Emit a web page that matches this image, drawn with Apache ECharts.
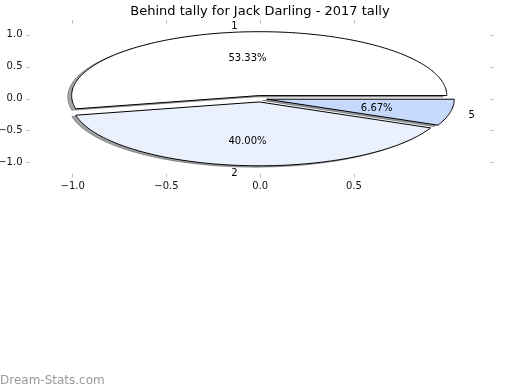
<!DOCTYPE html>
<html><head><meta charset="utf-8">
<script src="https://cdn.jsdelivr.net/npm/echarts@6/dist/echarts.min.js"></script>
<style>html,body{margin:0;padding:0;background:#fff}#c{width:520px;height:390px}</style>
</head><body><div id="c"></div>
<script>
const titleText = 'Behind tally for Jack Darling - 2017 tally';
const categories = ['1', '2', '5'];
const values = [8, 6, 1];
const sliceColors = ['#ffffff', '#eaf1fd', '#c6d9fb'];
const explode = [0.05, 0.05, 0.035];
const xTicks = [-1.0, -0.5, 0.0, 0.5];
const yTicks = [-1.0, -0.5, 0.0, 0.5, 1.0];
const watermark = 'Dream-Stats.com';

const FONT = 'DejaVu Sans';
const TEXT_DY = 1.2;
const total = values.reduce((a, b) => a + b, 0);
let acc = 0;
const sliceData = values.map((v, i) => {
  const a0 = acc / total * 360; acc += v; const a1 = acc / total * 360;
  return [a0, a1, i];
});

function wedgePts(api, a0, a1, cx, cy) {
  const pts = [api.coord([cx, cy])];
  const n = Math.max(4, Math.ceil(a1 - a0));
  for (let k = 0; k <= n; k++) {
    const t = (a0 + (a1 - a0) * k / n) * Math.PI / 180;
    pts.push(api.coord([cx + Math.cos(t), cy + Math.sin(t)]));
  }
  return pts;
}
function center(i, a0, a1) {
  const mid = (a0 + a1) / 2 * Math.PI / 180;
  return [explode[i] * Math.cos(mid), explode[i] * Math.sin(mid), mid];
}
const SH = -0.021;
function renderShadow(params, api) {
  const a0 = api.value(0), a1 = api.value(1), i = api.value(2);
  const [cx, cy] = center(i, a0, a1);
  const rgb = echarts.color.parse(sliceColors[i]);
  const c = 'rgba(' + Math.round(rgb[0]*0.3) + ',' + Math.round(rgb[1]*0.3) + ',' + Math.round(rgb[2]*0.3) + ',0.5)';
  return { type: 'polygon', shape: { points: wedgePts(api, a0, a1, cx + SH, cy + SH) },
    style: { fill: c, stroke: c, lineWidth: 1 } };
}
function renderWedge(params, api) {
  const a0 = api.value(0), a1 = api.value(1), i = api.value(2);
  const [cx, cy, mid] = center(i, a0, a1);
  const lx = cx + 1.1 * Math.cos(mid), ly = cy + 1.1 * Math.sin(mid);
  const lp = api.coord([lx, ly]);
  const pp = api.coord([cx + 0.6 * Math.cos(mid), cy + 0.6 * Math.sin(mid)]);
  const pct = (values[i] / total * 100).toFixed(2) + '%';
  return { type: 'group', children: [
    { type: 'polygon', shape: { points: wedgePts(api, a0, a1, cx, cy) },
      style: { fill: sliceColors[i], stroke: '#000', lineWidth: 1 } },
    { type: 'text', x: lp[0], y: lp[1] + TEXT_DY, style: { text: categories[i], fill: '#000',
      font: '10px "' + FONT + '"', align: lx > 0 ? 'left' : 'right', verticalAlign: 'middle' } },
    { type: 'text', x: pp[0], y: pp[1] + TEXT_DY, style: { text: pct, fill: '#000',
      font: '10px "' + FONT + '"', align: 'center', verticalAlign: 'middle' } }
  ] };
}

const fmt = v => (v < 0 ? '\u2212' : '') + Math.abs(v).toFixed(1);
function axis(pos, ticks, min, max, showLabel, isY) {
  return {
    type: 'value', position: pos, min: min, max: max,
    axisLine: { show: false, onZero: false }, splitLine: { show: false },
    axisTick: { show: true, customValues: ticks, length: 3.5, inside: false,
      lineStyle: { color: '#bdbdbd', width: 1 } },
    axisLabel: { show: showLabel, customValues: ticks, formatter: fmt, margin: 7,
      padding: isY ? [3, 0, 0, 0] : 0,
      color: '#111', fontFamily: FONT, fontSize: 10 }
  };
}

const chart = echarts.init(document.getElementById('c'), null, { renderer: 'canvas' });
chart.setOption({
  animation: false,
  backgroundColor: '#fff',
  title: { text: titleText, left: 'center', top: 0,
    textStyle: { fontFamily: FONT, fontSize: 13, fontWeight: 'normal', color: '#000' } },
  grid: { left: 29.5, right: 30, top: 23.5, bottom: 216, containLabel: false, outerBoundsMode: 'none' },
  xAxis: [axis('bottom', xTicks, -1.23, 1.225, true, false), axis('top', xTicks, -1.23, 1.225, false, false)],
  yAxis: [axis('left', yTicks, -1.178, 1.178, true, true), axis('right', yTicks, -1.178, 1.178, false, true)],
  graphic: [{ type: 'text', left: 0, top: 375, style: { text: watermark, fill: '#9a9a9a',
    font: '12px "' + FONT + '"' } }],
  series: [
    { type: 'custom', name: 'shadow', z: 1, silent: true, clip: false, renderItem: renderShadow, data: sliceData },
    { type: 'custom', name: 'wedges', z: 2, silent: true, clip: false, renderItem: renderWedge, data: sliceData }
  ]
});
</script></body></html>
